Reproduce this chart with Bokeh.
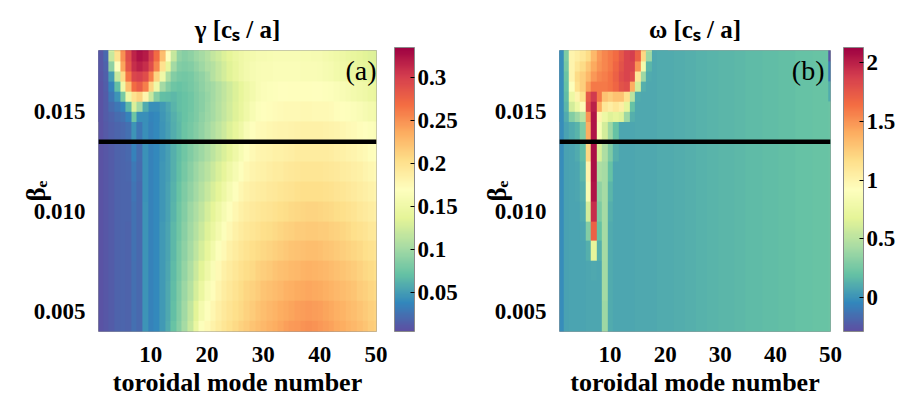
import numpy as np
from bokeh.plotting import figure
from bokeh.layouts import row
from bokeh.models import (LinearColorMapper, ColorBar, FixedTicker, PrintfTickFormatter,
                          CustomJSTickFormatter, Span, Label, Range1d, Title)
from bokeh.palettes import interp_palette
from bokeh.embed import file_html
from bokeh.resources import INLINE

# toroidal mode numbers (columns) and beta_e values (rows, bottom to top)
mode_numbers = list(range(1, 51))
beta_e = [0.004, 0.005, 0.006, 0.007, 0.008, 0.009, 0.010, 0.011,
          0.012, 0.013, 0.014, 0.015, 0.016, 0.017, 0.018]
# finer beta_e sampling of the low-n corner, where the modes change fastest
top_modes = list(range(1, 21))
beta_top = [0.01475, 0.01525, 0.01575, 0.01625, 0.01675, 0.01725, 0.01775, 0.01825]
beta_marker = 0.0135

# growth rate gamma, in units of 1e-3 c_s/a, one list per beta_e row
gamma_b004 = [8, 10, 13, 16, 18, 17, 24, 20, 45, 34, 38, 48, 58, 72, 86, 102, 120, 145, 166, 175, 183, 190, 196, 201, 206, 211, 216, 220, 224, 228, 232, 235, 239, 242, 245, 247, 249, 250, 249, 247, 244, 241, 238, 235, 231, 228, 224, 220, 216, 213]
gamma_b005 = [8, 10, 13, 16, 18, 17, 24, 20, 45, 34, 38, 48, 57, 70, 84, 99, 116, 136, 156, 168, 178, 186, 192, 197, 202, 207, 212, 216, 220, 224, 228, 231, 235, 238, 240, 242, 244, 245, 244, 242, 240, 237, 234, 231, 227, 224, 220, 217, 213, 210]
gamma_b006 = [8, 10, 13, 16, 18, 17, 24, 20, 45, 34, 38, 48, 56, 68, 82, 96, 110, 128, 145, 160, 171, 181, 188, 194, 199, 204, 209, 212, 216, 220, 223, 226, 229, 232, 234, 236, 238, 239, 238, 236, 234, 231, 229, 226, 223, 220, 216, 213, 209, 206]
gamma_b007 = [8, 10, 13, 16, 18, 17, 24, 20, 45, 34, 38, 47, 55, 67, 80, 93, 106, 121, 136, 150, 163, 176, 184, 190, 195, 200, 204, 207, 211, 214, 217, 220, 223, 225, 227, 229, 231, 232, 231, 230, 228, 226, 223, 221, 218, 215, 212, 208, 205, 202]
gamma_b008 = [8, 10, 13, 16, 18, 17, 25, 20, 45, 34, 38, 47, 54, 66, 78, 90, 102, 115, 128, 141, 154, 166, 176, 184, 190, 195, 199, 202, 205, 208, 210, 213, 215, 218, 220, 222, 223, 224, 224, 223, 221, 219, 217, 214, 212, 209, 206, 203, 200, 197]
gamma_b009 = [8, 10, 13, 16, 18, 17, 25, 20, 45, 34, 38, 47, 54, 65, 76, 88, 99, 110, 121, 133, 145, 156, 167, 177, 184, 189, 193, 196, 199, 202, 204, 207, 209, 211, 213, 215, 216, 217, 217, 216, 215, 213, 211, 209, 206, 203, 200, 197, 194, 192]
gamma_b010 = [8, 10, 13, 16, 18, 18, 26, 20, 45, 34, 38, 46, 53, 63, 74, 85, 96, 106, 116, 127, 138, 148, 158, 168, 178, 184, 188, 191, 193, 196, 198, 200, 202, 204, 206, 208, 209, 210, 210, 209, 208, 206, 204, 202, 200, 197, 194, 191, 188, 186]
gamma_b011 = [8, 10, 13, 16, 18, 18, 27, 20, 44, 34, 38, 46, 53, 62, 72, 82, 92, 101, 110, 120, 129, 138, 148, 158, 168, 178, 183, 186, 188, 190, 192, 194, 196, 198, 199, 201, 202, 203, 203, 202, 201, 200, 198, 196, 194, 191, 188, 186, 183, 181]
gamma_b012 = [8, 10, 13, 16, 18, 19, 29, 21, 44, 34, 38, 46, 52, 61, 70, 79, 88, 96, 104, 112, 121, 130, 139, 149, 159, 168, 177, 181, 183, 185, 187, 189, 190, 192, 193, 195, 196, 196, 196, 196, 195, 194, 192, 190, 188, 186, 184, 181, 178, 175]
gamma_b013 = [8, 10, 13, 16, 18, 20, 34, 23, 44, 34, 38, 45, 51, 60, 68, 76, 84, 91, 98, 106, 114, 122, 130, 139, 149, 160, 170, 176, 179, 181, 182, 184, 185, 186, 187, 189, 190, 190, 190, 190, 189, 188, 186, 184, 182, 180, 178, 175, 172, 170]
gamma_b014 = [8, 11, 15, 18, 20, 24, 45, 28, 42, 34, 38, 45, 51, 59, 66, 73, 79, 85, 92, 99, 107, 115, 123, 131, 140, 150, 161, 170, 174, 176, 178, 179, 180, 181, 182, 183, 184, 184, 184, 184, 183, 182, 180, 178, 176, 174, 172, 169, 166, 164]
gamma_b015 = [8, 13, 20, 24, 30, 45, 85, 60, 45, 38, 40, 46, 53, 62, 68, 72, 76, 82, 88, 95, 102, 109, 117, 125, 133, 142, 151, 160, 166, 170, 172, 173, 174, 175, 176, 176, 177, 177, 176, 176, 175, 174, 172, 170, 168, 165, 162, 159, 156, 153]
gamma_b016 = [8, 14, 28, 55, 110, 180, 235, 250, 220, 155, 100, 78, 72, 70, 70, 72, 76, 82, 88, 94, 101, 108, 116, 124, 132, 140, 148, 155, 161, 165, 167, 168, 169, 169, 170, 170, 170, 170, 169, 169, 168, 166, 164, 161, 158, 155, 152, 149, 146, 143]
gamma_b017 = [10, 15, 40, 110, 200, 260, 290, 300, 290, 262, 215, 155, 110, 90, 80, 78, 82, 90, 96, 103, 110, 118, 126, 134, 142, 149, 155, 159, 161, 162, 163, 164, 164, 164, 164, 164, 163, 163, 162, 161, 159, 157, 154, 151, 148, 145, 142, 139, 136, 134]
gamma_b018 = [10, 22, 70, 140, 235, 290, 318, 330, 325, 305, 272, 225, 165, 118, 95, 88, 92, 98, 104, 110, 117, 124, 131, 138, 144, 149, 153, 156, 158, 159, 160, 161, 161, 161, 161, 161, 160, 160, 159, 158, 156, 154, 151, 148, 145, 142, 139, 136, 133, 131]

# gamma for n = 1..20 on the finer beta_top rows
gamma_top_b01475 = [8, 12, 17, 21, 25, 34, 75, 42, 42, 36, 39, 46, 53, 60, 67, 72, 77, 83, 90, 97]
gamma_top_b01525 = [8, 13, 22, 28, 36, 65, 130, 100, 58, 42, 42, 48, 55, 63, 69, 72, 76, 82, 88, 95]
gamma_top_b01575 = [8, 13, 28, 45, 80, 150, 200, 210, 180, 120, 85, 70, 68, 66, 69, 72, 76, 82, 88, 94]
gamma_top_b01625 = [8, 14, 35, 70, 150, 225, 270, 280, 260, 210, 150, 100, 85, 75, 72, 74, 78, 84, 90, 96]
gamma_top_b01675 = [9, 15, 50, 120, 205, 265, 295, 300, 290, 260, 210, 150, 105, 85, 78, 77, 80, 86, 92, 99]
gamma_top_b01725 = [10, 17, 90, 170, 240, 285, 310, 318, 310, 290, 255, 200, 140, 100, 85, 82, 85, 92, 98, 105]
gamma_top_b01775 = [10, 20, 120, 200, 250, 290, 315, 325, 320, 300, 270, 225, 170, 118, 92, 86, 90, 96, 102, 108]
gamma_top_b01825 = [10, 22, 140, 220, 260, 295, 320, 330, 325, 305, 278, 235, 190, 128, 95, 88, 92, 98, 104, 110]

# real frequency omega, in units of 1e-2 c_s/a, one list per beta_e row
omega_b004 = [-2, 6, 7, 7, 7, 8, 8, 8, 40, 10, 8, 8, 8, 8, 9, 9, 9, 9, 10, 10, 10, 11, 11, 12, 12, 13, 13, 14, 14, 15, 15, 15, 16, 16, 17, 17, 17, 18, 18, 18, 19, 19, 19, 20, 20, 20, 21, 21, 21, 22]
omega_b005 = [-2, 6, 7, 7, 7, 8, 8, 8, 40, 10, 8, 8, 8, 8, 9, 9, 9, 9, 10, 10, 10, 11, 11, 12, 12, 13, 13, 14, 14, 15, 15, 15, 16, 16, 17, 17, 17, 18, 18, 18, 19, 19, 19, 20, 20, 20, 21, 21, 21, 22]
omega_b006 = [-2, 6, 7, 7, 7, 8, 8, 8, 41, 10, 8, 8, 8, 8, 9, 9, 9, 9, 10, 10, 10, 11, 11, 12, 12, 13, 13, 14, 14, 15, 15, 15, 16, 16, 17, 17, 17, 18, 18, 18, 19, 19, 19, 20, 20, 20, 21, 21, 21, 22]
omega_b007 = [-2, 6, 7, 7, 7, 8, 9, 8, 41, 10, 8, 8, 8, 8, 9, 9, 9, 9, 10, 10, 10, 11, 11, 12, 12, 13, 13, 14, 14, 15, 15, 15, 16, 16, 17, 17, 17, 18, 18, 18, 19, 19, 19, 20, 20, 20, 21, 21, 21, 22]
omega_b008 = [-2, 6, 7, 7, 7, 12, 70, 12, 42, 10, 8, 8, 8, 8, 9, 9, 9, 9, 10, 10, 10, 11, 11, 12, 12, 13, 13, 14, 14, 15, 15, 15, 16, 16, 17, 17, 17, 18, 18, 18, 19, 19, 19, 20, 20, 20, 21, 21, 21, 22]
omega_b009 = [-2, 6, 7, 7, 8, 30, 170, 20, 42, 10, 8, 8, 8, 8, 9, 9, 9, 9, 10, 10, 10, 11, 11, 12, 12, 13, 13, 14, 14, 15, 15, 15, 16, 16, 17, 17, 17, 18, 18, 18, 19, 19, 19, 20, 20, 20, 21, 21, 21, 22]
omega_b010 = [-2, 6, 7, 7, 10, 60, 195, 28, 42, 12, 8, 8, 8, 8, 9, 9, 9, 9, 10, 10, 10, 11, 11, 12, 12, 13, 13, 14, 14, 15, 15, 15, 16, 16, 17, 17, 17, 18, 18, 18, 19, 19, 19, 20, 20, 20, 21, 21, 21, 22]
omega_b011 = [-2, 6, 7, 8, 12, 85, 205, 35, 42, 15, 8, 8, 8, 8, 9, 9, 9, 9, 10, 10, 10, 11, 11, 12, 12, 13, 13, 14, 14, 15, 15, 15, 16, 16, 17, 17, 17, 18, 18, 18, 19, 19, 19, 20, 20, 20, 21, 21, 21, 22]
omega_b012 = [-2, 6, 7, 8, 15, 100, 207, 45, 42, 20, 8, 8, 8, 8, 9, 9, 9, 9, 10, 10, 10, 11, 11, 12, 12, 13, 13, 14, 14, 15, 15, 15, 16, 16, 17, 17, 17, 18, 18, 18, 19, 19, 19, 20, 20, 20, 21, 21, 21, 22]
omega_b013 = [-2, 6, 7, 10, 18, 120, 207, 62, 45, 28, 12, 8, 8, 8, 9, 9, 9, 9, 10, 10, 10, 11, 11, 12, 12, 13, 13, 14, 14, 15, 15, 15, 16, 16, 17, 17, 17, 18, 18, 18, 19, 19, 19, 20, 20, 20, 21, 21, 21, 22]
omega_b014 = [-2, 6, 10, 14, 28, 140, 205, 85, 60, 40, 20, 8, 8, 8, 9, 9, 9, 9, 10, 10, 10, 11, 11, 12, 12, 13, 13, 14, 14, 15, 15, 15, 16, 16, 17, 17, 17, 18, 18, 18, 19, 19, 19, 20, 20, 20, 21, 21, 21, 22]
omega_b015 = [-2, 12, 50, 70, 95, 175, 200, 110, 90, 85, 92, 88, 50, 15, 9, 9, 9, 9, 10, 10, 10, 11, 11, 12, 12, 13, 13, 14, 14, 15, 15, 15, 16, 16, 17, 17, 17, 18, 18, 18, 19, 19, 19, 20, 20, 20, 21, 21, 21, 22]
omega_b016 = [-2, 15, 80, 108, 122, 150, 175, 160, 160, 163, 168, 172, 160, 110, 40, 12, 9, 9, 10, 10, 10, 11, 11, 12, 12, 13, 13, 14, 14, 15, 15, 15, 16, 16, 17, 17, 17, 18, 18, 18, 19, 19, 19, 20, 20, 20, 21, 21, 21, 10]
omega_b017 = [-2, 20, 100, 112, 122, 132, 143, 150, 155, 160, 168, 178, 185, 180, 130, 55, 12, 9, 10, 10, 10, 11, 11, 12, 12, 13, 13, 14, 14, 15, 15, 15, 16, 16, 17, 17, 17, 18, 18, 18, 19, 19, 19, 20, 20, 20, 21, 21, 21, -10]
omega_b018 = [-2, 25, 100, 105, 110, 118, 135, 148, 155, 160, 165, 175, 185, 188, 165, 110, 35, 9, 10, 10, 10, 11, 11, 12, 12, 13, 13, 14, 14, 15, 15, 15, 16, 16, 17, 17, 17, 18, 18, 18, 19, 19, 19, 20, 20, 20, 21, 21, 21, -25]

# omega for n = 1..20 on the finer beta_top rows
omega_top_b01475 = [-2, 10, 30, 40, 50, 150, 205, 100, 75, 65, 70, 65, 40, 12, 9, 9, 9, 9, 10, 10]
omega_top_b01525 = [-2, 15, 60, 75, 95, 180, 200, 140, 110, 105, 110, 105, 70, 20, 9, 9, 9, 9, 10, 10]
omega_top_b01575 = [-2, 18, 75, 100, 115, 175, 190, 160, 130, 125, 130, 130, 115, 50, 10, 9, 9, 9, 10, 10]
omega_top_b01625 = [-2, 20, 90, 115, 125, 145, 160, 160, 160, 162, 168, 178, 180, 140, 60, 12, 9, 9, 10, 10]
omega_top_b01675 = [-2, 22, 100, 118, 125, 135, 148, 155, 158, 162, 170, 180, 185, 180, 110, 40, 10, 9, 10, 10]
omega_top_b01725 = [-2, 25, 100, 110, 118, 128, 142, 150, 155, 160, 168, 178, 185, 185, 150, 80, 15, 9, 10, 10]
omega_top_b01775 = [-2, 28, 100, 105, 110, 118, 135, 148, 155, 160, 165, 175, 185, 188, 170, 120, 40, 9, 10, 10]
omega_top_b01825 = [-2, 30, 100, 103, 108, 115, 132, 146, 155, 160, 165, 175, 185, 188, 175, 135, 55, 10, 10, 10]

gamma_rows = [gamma_b004, gamma_b005, gamma_b006, gamma_b007, gamma_b008, gamma_b009, gamma_b010, gamma_b011,
              gamma_b012, gamma_b013, gamma_b014, gamma_b015, gamma_b016, gamma_b017, gamma_b018]
omega_rows = [omega_b004, omega_b005, omega_b006, omega_b007, omega_b008, omega_b009, omega_b010, omega_b011,
              omega_b012, omega_b013, omega_b014, omega_b015, omega_b016, omega_b017, omega_b018]
gamma_top_rows = [gamma_top_b01475, gamma_top_b01525, gamma_top_b01575, gamma_top_b01625,
                  gamma_top_b01675, gamma_top_b01725, gamma_top_b01775, gamma_top_b01825]
omega_top_rows = [omega_top_b01475, omega_top_b01525, omega_top_b01575, omega_top_b01625,
                  omega_top_b01675, omega_top_b01725, omega_top_b01775, omega_top_b01825]

gamma = np.array(gamma_rows, dtype=float) * 1e-3
omega = np.array(omega_rows, dtype=float) * 1e-2
gamma_top = np.array(gamma_top_rows, dtype=float) * 1e-3
omega_top = np.array(omega_top_rows, dtype=float) * 1e-2

gamma_cbar_ticks = [0.05, 0.1, 0.15, 0.2, 0.25, 0.3]
omega_cbar_ticks = [0, 0.5, 1, 1.5, 2]
x_ticks = [10, 20, 30, 40, 50]
y_ticks = [0.005, 0.010, 0.015]

SPECTRAL = ["#5e4fa2", "#3288bd", "#66c2a5", "#abdda4", "#e6f598", "#ffffbf",
            "#fee08b", "#fdae61", "#f46d43", "#d53e4f", "#9e0142"]
PALETTE = interp_palette(SPECTRAL, 256)

SERIF = "Liberation Serif"
FRAME_H = 284
Y_RANGE = (0.00397, 0.01809)


def cell_image(p, field, cols, rows, mapper):
    # each grid value fills one cell centred on its (mode number, beta_e) node
    dn = cols[1] - cols[0]
    db = rows[1] - rows[0]
    p.image(image=[field], x=cols[0] - dn / 2, y=rows[0] - db / 2,
            dw=dn * len(cols), dh=db * len(rows), color_mapper=mapper)


def panel(title, field, field_top, x_range, width, border_left, frame_w, lo, hi, cticks, cbar_gap, tag):
    border_right = width - border_left - frame_w
    p = figure(width=width, height=399, x_range=Range1d(*x_range), y_range=Range1d(*Y_RANGE),
               output_backend="svg", toolbar_location=None,
               min_border_left=border_left, min_border_right=border_right,
               min_border_top=50, min_border_bottom=399 - 50 - FRAME_H)
    p.title = Title(text=title, align="center", text_font=SERIF, text_font_size="25px",
                    text_font_style="bold", text_color="black", standoff=16)
    p.grid.visible = False
    p.outline_line_color = "#9a9a9a"
    p.outline_line_width = 1
    p.background_fill_color = "white"
    p.border_fill_color = "white"

    mapper = LinearColorMapper(palette=PALETTE, low=lo, high=hi)
    cell_image(p, field, mode_numbers, beta_e, mapper)
    cell_image(p, field_top, top_modes, beta_top, mapper)

    p.add_layout(Span(location=beta_marker, dimension="width", line_color="black",
                      line_width=4.5))

    for ax in (p.xaxis[0], p.yaxis[0]):
        ax.axis_line_color = None
        ax.major_tick_line_color = None
        ax.minor_tick_line_color = None
        ax.major_label_text_font = SERIF
        ax.major_label_text_font_style = "bold"
        ax.major_label_text_font_size = "23px"
        ax.major_label_text_color = "black"
    p.xaxis.ticker = FixedTicker(ticks=x_ticks)
    p.yaxis.ticker = FixedTicker(ticks=y_ticks)
    p.yaxis.formatter = PrintfTickFormatter(format="%.3f")
    p.xaxis.major_label_standoff = 9
    p.yaxis.major_label_standoff = 7
    p.xaxis.axis_label = "toroidal mode number"
    p.xaxis.axis_label_text_font = SERIF
    p.xaxis.axis_label_text_font_style = "bold"
    p.xaxis.axis_label_text_font_size = "26px"
    p.xaxis.axis_label_text_color = "black"
    p.xaxis.axis_label_standoff = 3
    p.yaxis.axis_label = "\u03b2\u2091"
    p.yaxis.axis_label_text_font = SERIF
    p.yaxis.axis_label_text_font_style = "bold"
    p.yaxis.axis_label_text_font_size = "27px"
    p.yaxis.axis_label_text_color = "black"
    p.yaxis.axis_label_standoff = -20

    cbar = ColorBar(color_mapper=mapper, width=20, height=FRAME_H, padding=0, margin=0,
                    location=(cbar_gap, 0),
                    ticker=FixedTicker(ticks=cticks),
                    formatter=CustomJSTickFormatter(code="return String(Number(tick.toFixed(3)));"),
                    bar_line_color="#8a8a8a", major_tick_line_color="black",
                    major_tick_in=4, major_tick_out=0, label_standoff=3,
                    major_label_text_font=SERIF, major_label_text_font_style="bold",
                    major_label_text_font_size="23px", major_label_text_color="black",
                    background_fill_alpha=0, border_line_color=None)
    p.add_layout(cbar, "right")

    p.add_layout(Label(x=frame_w - 8, y=FRAME_H - 38, x_units="screen", y_units="screen",
                       text=tag, text_font=SERIF, text_font_size="28px",
                       text_font_style="normal", text_align="right", text_color="black"))
    return p


p1 = panel("\u03b3 [c\u209b / a]", gamma, gamma_top, (0.72, 50.1), 460, 98, 286,
           0.0042, 0.335, gamma_cbar_ticks, 18, "(a)")
p2 = panel("\u03c9 [c\u209b / a]", omega, omega_top, (0.83, 50.0), 438, 99, 273,
           -0.29, 2.13, omega_cbar_ticks, 13, "(b)")

layout = row(p1, p2)
open("out.html", "w").write(file_html(layout, INLINE))
